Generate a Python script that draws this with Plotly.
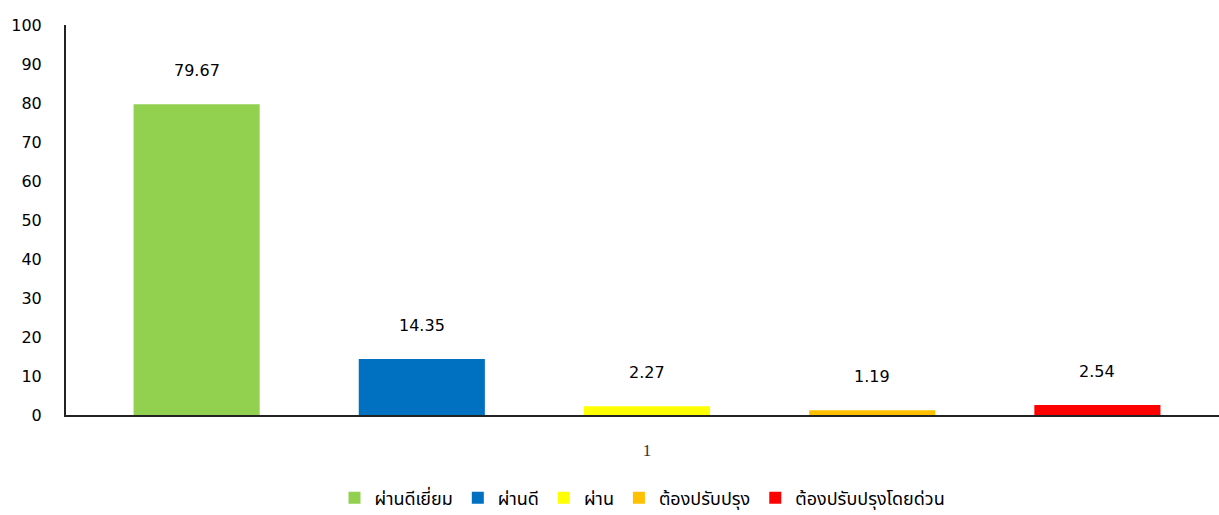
"""
Assessment result distribution (%) bar chart.
"""
import plotly.graph_objects as go

categories = ["ผ่านดีเยี่ยม", "ผ่านดี", "ผ่าน", "ต้องปรับปรุง", "ต้องปรับปรุงโดยด่วน"]
values = [79.67, 14.35, 2.27, 1.19, 2.54]
colors = ["#92D050", "#0070C0", "#FFFF00", "#FFC000", "#FF0000"]
group_label = "1"


def build_chart():
    ''' One bar per result level in a single group '''
    fig = go.Figure()
    for i, (name, val, col) in enumerate(zip(categories, values, colors)):
        fig.add_trace(go.Bar(
            x=[i],
            y=[val],
            name=name,
            width=0.56,
            marker=dict(color=col, line=dict(width=0)),
        ))
        fig.add_annotation(
            x=i, y=val, text=f"{val:.2f}",
            showarrow=False, yanchor="bottom", yshift=22,
            font=dict(family="DejaVu Sans", size=16, color="#000000"),
        )

    fig.update_layout(
        width=1219,
        height=515,
        margin=dict(l=66, r=0, t=25, b=100),
        plot_bgcolor="white",
        paper_bgcolor="white",
        showlegend=True,
        font=dict(family="DejaVu Sans", size=16, color="#000000"),
        legend=dict(
            orientation="h",
            x=0.5,
            xanchor="center",
            yref="container",
            y=0.033,
            yanchor="middle",
            font=dict(family="Noto Sans Thai, Noto Sans, DejaVu Sans", size=18),
            itemwidth=30,
        ),
        xaxis=dict(
            range=[-0.58, 4.54],
            tickvals=[2],
            ticktext=[group_label],
            tickfont=dict(family="Liberation Serif", size=17, color="#333333"),
            ticklabelstandoff=19,
            showline=True,
            linecolor="#222222",
            linewidth=2,
            showgrid=False,
            zeroline=False,
            ticks="",
            automargin=False,
        ),
        yaxis=dict(
            range=[0, 100],
            dtick=10,
            showline=True,
            linecolor="#222222",
            linewidth=2,
            showgrid=False,
            zeroline=False,
            ticks="",
            ticklabelstandoff=19,
            automargin=False,
        ),
    )
    return fig


fig = build_chart()
# drop the default body margin so the figure fills the window exactly
fig.write_html(
    "out.html",
    config={"displayModeBar": False},
    post_script="document.body.style.margin='0';document.body.style.overflow='hidden';",
)
